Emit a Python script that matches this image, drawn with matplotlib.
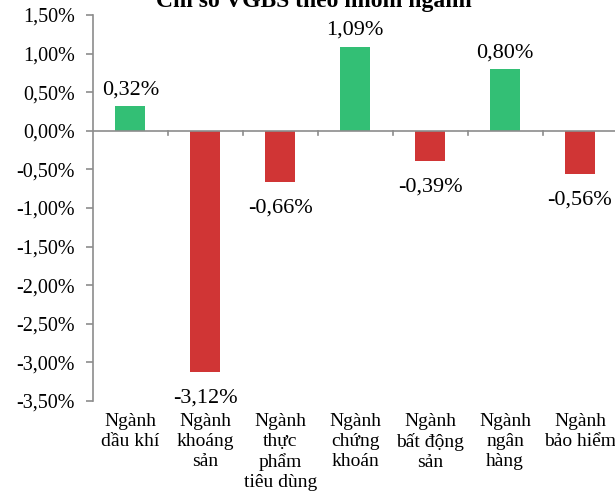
import matplotlib
matplotlib.use('Agg')
import matplotlib.pyplot as plt
import numpy as np

# du lieu theo nhom nganh
nganh = ['Ngành\ndầu khí', 'Ngành\nkhoáng\nsản', 'Ngành\nthực\nphẩm\ntiêu dùng',
         'Ngành\nchứng\nkhoán', 'Ngành\nbất động\nsản', 'Ngành\nngân\nhàng',
         'Ngành\nbảo hiểm']
thay_doi = [0.32, -3.12, -0.66, 1.09, -0.39, 0.80, -0.56]
nhan = ['0,32%', '-3,12%', '-0,66%', '1,09%', '-0,39%', '0,80%', '-0,56%']
y_ticks = [1.5, 1.0, 0.5, 0.0, -0.5, -1.0, -1.5, -2.0, -2.5, -3.0, -3.5]

plt.rcParams['font.family'] = ['Liberation Serif', 'DejaVu Serif']

xanh = '#33BF75'
do = '#D03535'
xam = '#8C8C8C'

fig = plt.figure(figsize=(6.15, 5.0), dpi=100)
ax = fig.add_axes([0.151, 0.198, 0.853, 0.772])

x = np.arange(len(nganh))
mau = [xanh if v >= 0 else do for v in thay_doi]
ax.bar(x, thay_doi, width=0.4, color=mau, zorder=2)

for xi, v, t in zip(x, thay_doi, nhan):
    if v >= 0:
        ax.annotate(t, (xi, v), xytext=(0, 5), textcoords='offset points',
                    ha='center', va='bottom', fontsize=16)
    else:
        ax.annotate(t, (xi, v), xytext=(0, -12), textcoords='offset points',
                    ha='center', va='top', fontsize=16)

ax.set_xlim(-0.5, 6.5)
ax.set_ylim(-3.5, 1.5)
ax.set_yticks(y_ticks)
ax.set_yticklabels([('%.2f%%' % v).replace('.', ',') for v in y_ticks], fontsize=14.5)
ax.tick_params(axis='y', direction='out', length=5, color=xam, width=1.2, pad=8)

# truc hoanh o muc 0
ax.axhline(0, color=xam, lw=1.2, zorder=3)
ax.set_xticks(np.arange(0.5, 6.5, 1.0))
ax.set_xticklabels([])
ax.tick_params(axis='x', length=0)
for b in np.arange(0.5, 6.5, 1.0):
    ax.plot([b, b], [0, -0.06], color=xam, lw=1.2, zorder=3)

for xi, t in zip(x, nganh):
    ax.text(xi, -3.66, t, ha='center', va='top', fontsize=14,
            linespacing=1.22, clip_on=False)

for s in ['top', 'right', 'bottom']:
    ax.spines[s].set_visible(False)
ax.spines['left'].set_color(xam)
ax.spines['left'].set_linewidth(1.2)

fig.text(0.51, 0.986, 'Chỉ số VGBS theo nhóm ngành', ha='center', va='baseline',
         fontsize=17, fontweight='bold')

fig.savefig('out.png', dpi=100)
